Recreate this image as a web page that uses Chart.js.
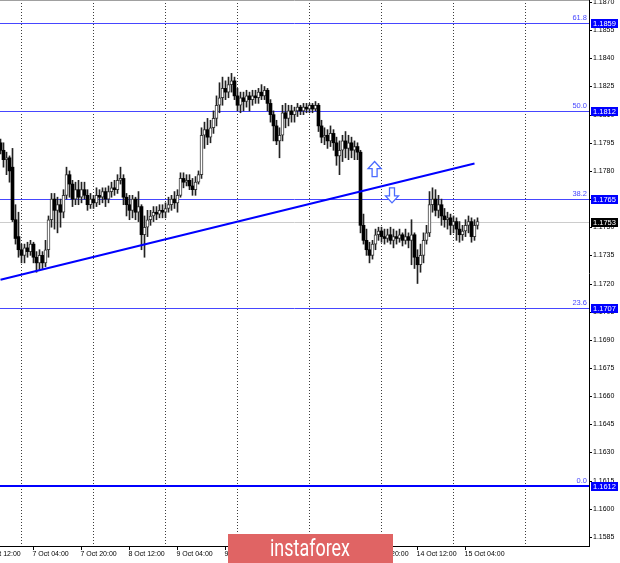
<!DOCTYPE html>
<html>
<head>
<meta charset="utf-8">
<script src="https://cdn.jsdelivr.net/npm/chart.js@4.4.0/dist/chart.umd.min.js"></script>
<style>
  html, body { margin: 0; padding: 0; background: #fff; }
  #wrap { width: 620px; height: 563px; }
</style>
</head>
<body>
<div id="wrap"><canvas id="eurusdH1" width="620" height="563"></canvas></div>
<script>
// H1 bars. Bar index 0 = 7 Oct 00:00, weekend hours are skipped like in the terminal
var firstBar = -7;

var openVals = [
  1.1795,1.1791,1.1786,1.1787,1.1782,1.1754,1.1745,1.1738,1.1735,1.1739,
  1.1737,1.1741,1.1734,1.1731,1.1735,1.1731,1.1738,1.1754,1.1765,1.1759,
  1.1762,1.1758,1.1767,1.1778,1.1773,1.1765,1.1770,1.1766,1.1770,1.1767,
  1.1762,1.1765,1.1763,1.1767,1.1766,1.1769,1.1765,1.1769,1.1771,1.1770,
  1.1775,1.1776,1.1766,1.1762,1.1759,1.1765,1.1758,1.1761,1.1746,1.1750,
  1.1754,1.1756,1.1758,1.1757,1.1759,1.1758,1.1760,1.1762,1.1765,1.1763,
  1.1767,1.1776,1.1774,1.1775,1.1772,1.1770,1.1774,1.1778,1.1799,1.1802,
  1.1798,1.1803,1.1808,1.1815,1.1819,1.1824,1.1822,1.1826,1.1828,1.1820,
  1.1815,1.1819,1.1817,1.1820,1.1818,1.1820,1.1819,1.1822,1.1820,1.1823,
  1.1816,1.1810,1.1804,1.1796,1.1799,1.1811,1.1808,1.1812,1.1810,1.1812,
  1.1814,1.1812,1.1814,1.1813,1.1815,1.1813,1.1815,1.1804,1.1798,1.1799,
  1.1796,1.1800,1.1795,1.1788,1.1791,1.1796,1.1792,1.1795,1.1791,1.1793,
  1.1790,1.1751,1.1743,1.1738,1.1735,1.1741,1.1746,1.1748,1.1745,1.1744,
  1.1746,1.1743,1.1745,1.1744,1.1746,1.1743,1.1745,1.1743,1.1746,1.1734,
  1.1730,1.1735,1.1743,1.1747,1.1762,1.1765,1.1759,1.1762,1.1756,1.1754,
  1.1755,1.1751,1.1753,1.1749,1.1746,1.1748,1.1751,1.1753,1.1745,1.1751
];
var highVals = [
  1.1797,1.1795,1.1790,1.1788,1.1792,1.1762,1.1758,1.1741,1.1741,1.1742,
  1.1743,1.1742,1.1737,1.1738,1.1737,1.1743,1.1756,1.1768,1.1768,1.1766,
  1.1765,1.1770,1.1782,1.1780,1.1775,1.1774,1.1775,1.1774,1.1774,1.1770,
  1.1768,1.1767,1.1771,1.1770,1.1771,1.1771,1.1772,1.1774,1.1775,1.1778,
  1.1782,1.1778,1.1768,1.1767,1.1767,1.1766,1.1769,1.1762,1.1756,1.1759,
  1.1759,1.1761,1.1761,1.1762,1.1762,1.1763,1.1766,1.1767,1.1769,1.1770,
  1.1779,1.1779,1.1778,1.1778,1.1776,1.1777,1.1780,1.1803,1.1806,1.1808,
  1.1807,1.1812,1.1820,1.1827,1.1830,1.1828,1.1830,1.1832,1.1830,1.1824,
  1.1822,1.1822,1.1823,1.1822,1.1823,1.1823,1.1824,1.1826,1.1825,1.1824,
  1.1818,1.1812,1.1807,1.1803,1.1815,1.1816,1.1815,1.1815,1.1814,1.1816,
  1.1815,1.1816,1.1816,1.1816,1.1816,1.1817,1.1816,1.1807,1.1803,1.1802,
  1.1804,1.1802,1.1798,1.1796,1.1799,1.1801,1.1799,1.1798,1.1796,1.1795,
  1.1791,1.1757,1.1749,1.1742,1.1743,1.1749,1.1750,1.1750,1.1749,1.1749,
  1.1750,1.1749,1.1748,1.1749,1.1747,1.1749,1.1747,1.1754,1.1747,1.1738,
  1.1741,1.1747,1.1751,1.1769,1.1771,1.1770,1.1767,1.1765,1.1760,1.1758,
  1.1757,1.1756,1.1755,1.1753,1.1751,1.1754,1.1756,1.1755,1.1754,1.1755
];
var lowVals = [
  1.1789,1.1782,1.1778,1.1774,1.1753,1.1741,1.1734,1.1731,1.1731,1.1734,
  1.1735,1.1731,1.1726,1.1727,1.1728,1.1729,1.1734,1.1750,1.1749,1.1747,
  1.1750,1.1755,1.1765,1.1766,1.1761,1.1762,1.1762,1.1763,1.1765,1.1759,
  1.1760,1.1760,1.1761,1.1762,1.1763,1.1761,1.1763,1.1766,1.1767,1.1768,
  1.1773,1.1762,1.1756,1.1754,1.1755,1.1754,1.1753,1.1738,1.1734,1.1745,
  1.1751,1.1753,1.1754,1.1755,1.1755,1.1755,1.1758,1.1759,1.1760,1.1758,
  1.1766,1.1771,1.1772,1.1770,1.1767,1.1767,1.1773,1.1776,1.1792,1.1794,
  1.1795,1.1800,1.1804,1.1811,1.1815,1.1818,1.1819,1.1822,1.1818,1.1812,
  1.1811,1.1812,1.1814,1.1812,1.1815,1.1816,1.1816,1.1818,1.1818,1.1812,
  1.1806,1.1796,1.1794,1.1787,1.1796,1.1803,1.1804,1.1806,1.1806,1.1809,
  1.1810,1.1810,1.1811,1.1811,1.1811,1.1812,1.1801,1.1795,1.1794,1.1792,
  1.1793,1.1791,1.1783,1.1778,1.1785,1.1787,1.1786,1.1787,1.1786,1.1786,
  1.1747,1.1741,1.1735,1.1731,1.1733,1.1738,1.1743,1.1742,1.1741,1.1742,
  1.1741,1.1739,1.1741,1.1742,1.1740,1.1741,1.1739,1.1730,1.1728,1.1720,
  1.1726,1.1731,1.1741,1.1745,1.1758,1.1756,1.1755,1.1751,1.1750,1.1749,
  1.1746,1.1747,1.1743,1.1742,1.1743,1.1745,1.1747,1.1742,1.1743,1.1749
];
var closeVals = [
  1.1791,1.1786,1.1787,1.1780,1.1754,1.1744,1.1738,1.1735,1.1739,1.1737,
  1.1741,1.1734,1.1731,1.1735,1.1731,1.1738,1.1754,1.1765,1.1759,1.1762,
  1.1758,1.1767,1.1778,1.1773,1.1765,1.1770,1.1766,1.1770,1.1767,1.1762,
  1.1765,1.1763,1.1767,1.1766,1.1769,1.1765,1.1769,1.1771,1.1770,1.1775,
  1.1776,1.1766,1.1762,1.1759,1.1765,1.1758,1.1761,1.1746,1.1750,1.1754,
  1.1756,1.1758,1.1757,1.1759,1.1758,1.1760,1.1762,1.1765,1.1763,1.1767,
  1.1776,1.1774,1.1775,1.1772,1.1770,1.1774,1.1778,1.1799,1.1802,1.1798,
  1.1803,1.1808,1.1815,1.1819,1.1824,1.1822,1.1826,1.1828,1.1820,1.1815,
  1.1819,1.1817,1.1820,1.1818,1.1820,1.1819,1.1822,1.1820,1.1823,1.1816,
  1.1810,1.1804,1.1796,1.1799,1.1811,1.1808,1.1812,1.1810,1.1812,1.1814,
  1.1812,1.1814,1.1813,1.1815,1.1813,1.1815,1.1804,1.1798,1.1799,1.1796,
  1.1800,1.1795,1.1788,1.1791,1.1796,1.1792,1.1795,1.1791,1.1793,1.1790,
  1.1751,1.1743,1.1738,1.1735,1.1741,1.1746,1.1748,1.1745,1.1744,1.1746,
  1.1743,1.1745,1.1744,1.1746,1.1743,1.1745,1.1743,1.1746,1.1734,1.1730,
  1.1735,1.1743,1.1747,1.1762,1.1765,1.1759,1.1762,1.1756,1.1754,1.1755,
  1.1751,1.1753,1.1749,1.1746,1.1748,1.1751,1.1753,1.1745,1.1751,1.1753
];

// time axis labels (bar index -> text) and day separators
var timeTickIdx = [-12, 4, 20, 36, 52, 68, 84, 100, 116, 132, 148];
var timeTickText = ['6 Oct 12:00', '7 Oct 04:00', '7 Oct 20:00', '8 Oct 12:00', '9 Oct 04:00',
  '9 Oct 20:00', '12 Oct 12:00', '13 Oct 04:00', '13 Oct 20:00', '14 Oct 12:00', '15 Oct 04:00'];
var dayStartIdx = [0, 24, 48, 72, 96, 120, 144, 168];

// price axis
var priceTicks = [1.1870, 1.1855, 1.1840, 1.1825, 1.1810, 1.1795, 1.1780, 1.1765, 1.1750, 1.1735,
  1.1720, 1.1705, 1.1690, 1.1675, 1.1660, 1.1645, 1.1630, 1.1615, 1.1600, 1.1585];

// fibo levels
var fibNames = ['61.8', '50.0', '38.2', '23.6', '0.0'];
var fibPrices = [1.1859, 1.1812, 1.1765, 1.1707, 1.1612];
var lastPrice = 1.1753;

// trend line (bar index, price)
var trendIdx = [-7, 151];
var trendPrices = [1.1722, 1.1784];

// hollow arrows: bar index, top price, bottom price
var arrowIdx = [117.7, 123.5];
var arrowTop = [1.1785, 1.1771];
var arrowBottom = [1.1777, 1.1763];
var arrowDir = ['up', 'down'];

var wickPts = [], bodyPts = [];
for (var k = 0; k < openVals.length; k++) {
  wickPts.push({ x: firstBar + k, y: [lowVals[k], highVals[k]] });
  bodyPts.push({ x: firstBar + k, y: [Math.min(openVals[k], closeVals[k]), Math.max(openVals[k], closeVals[k])] });
}
var trendPts = trendIdx.map(function (v, n) { return { x: v, y: trendPrices[n] }; });

function isBull(ctx) {
  return closeVals[ctx.dataIndex] >= openVals[ctx.dataIndex];
}

var axisFont = '7px "Liberation Sans", Arial, sans-serif';

var mt4Frame = {
  id: 'mt4Frame',
  beforeDatasetsDraw: function (chart) {
    var c = chart.ctx, a = chart.chartArea, xs = chart.scales.x, ys = chart.scales.y;
    c.save();
    // day separators
    c.strokeStyle = '#3c3c3c';
    c.lineWidth = 1;
    c.setLineDash([1, 2]);
    dayStartIdx.forEach(function (i) {
      var px = Math.floor(xs.getPixelForValue(i)) + 0.5;
      c.beginPath(); c.moveTo(px, a.top); c.lineTo(px, a.bottom); c.stroke();
    });
    c.setLineDash([]);
    // bid line
    var by = Math.round(ys.getPixelForValue(lastPrice)) + 0.5;
    c.strokeStyle = '#cccccc';
    c.beginPath(); c.moveTo(a.left, by); c.lineTo(a.right, by); c.stroke();
    // fibo levels
    fibPrices.forEach(function (p, n) {
      var w = fibNames[n] === '0.0' ? 2 : 1;
      var py = Math.round(ys.getPixelForValue(p)) + (w === 1 ? 0.5 : 0);
      c.strokeStyle = w === 2 ? '#0000ff' : '#4646ff';
      c.lineWidth = w;
      c.beginPath(); c.moveTo(a.left, py); c.lineTo(a.right, py); c.stroke();
    });
    c.restore();
  },
  afterDraw: function (chart) {
    var c = chart.ctx, a = chart.chartArea, xs = chart.scales.x, ys = chart.scales.y;
    c.save();
    // frame
    c.strokeStyle = '#a0a0a0';
    c.lineWidth = 1;
    c.beginPath(); c.moveTo(a.left, 0.5); c.lineTo(a.right, 0.5); c.stroke();
    c.strokeStyle = '#000';
    c.beginPath();
    c.moveTo(a.right + 0.5, 0); c.lineTo(a.right + 0.5, a.bottom + 1);
    c.moveTo(0, a.bottom + 0.5); c.lineTo(a.right + 1, a.bottom + 0.5);
    c.stroke();

    c.font = axisFont;
    c.fillStyle = '#000';
    // price labels
    c.textAlign = 'left';
    c.textBaseline = 'middle';
    priceTicks.forEach(function (p) {
      var py = Math.round(ys.getPixelForValue(p)) + 0.5;
      c.beginPath(); c.moveTo(a.right, py); c.lineTo(a.right + 3, py); c.stroke();
      c.fillText(p.toFixed(4), a.right + 4, py);
    });
    // time labels
    timeTickIdx.forEach(function (i, n) {
      var px = Math.floor(xs.getPixelForValue(i)) + 0.5;
      c.beginPath(); c.moveTo(px, a.bottom); c.lineTo(px, a.bottom + 4); c.stroke();
      c.fillText(timeTickText[n], px - 1, a.bottom + 8);
    });

    // fibo captions and price boxes
    c.font = '7.5px "Liberation Sans", Arial, sans-serif';
    fibPrices.forEach(function (p, n) {
      var py = Math.round(ys.getPixelForValue(p));
      c.fillStyle = '#4646ff';
      c.textAlign = 'right';
      c.textBaseline = 'bottom';
      c.fillText(fibNames[n], a.right - 2, py - 1);
      c.fillStyle = '#0000ff';
      c.fillRect(a.right + 2, py - 4, 27, 9);
      c.fillStyle = '#fff';
      c.textAlign = 'left';
      c.textBaseline = 'middle';
      c.fillText(p.toFixed(4), a.right + 4, py + 0.5);
    });
    // last price box
    var ly = Math.round(ys.getPixelForValue(lastPrice));
    c.fillStyle = '#000';
    c.fillRect(a.right + 2, ly - 4, 27, 9);
    c.fillStyle = '#fff';
    c.fillText(lastPrice.toFixed(4), a.right + 4, ly + 0.5);

    // hollow arrows
    c.strokeStyle = '#4a6aff';
    c.fillStyle = '#fff';
    c.lineWidth = 1.3;
    arrowIdx.forEach(function (i, n) {
      var cx = xs.getPixelForValue(i);
      var t = ys.getPixelForValue(arrowTop[n]);
      var b = ys.getPixelForValue(arrowBottom[n]);
      c.beginPath();
      if (arrowDir[n] === 'up') {
        c.moveTo(cx, t); c.lineTo(cx + 6.5, t + 7); c.lineTo(cx + 2.5, t + 7);
        c.lineTo(cx + 2.5, b); c.lineTo(cx - 2.5, b); c.lineTo(cx - 2.5, t + 7);
        c.lineTo(cx - 6.5, t + 7);
      } else {
        c.moveTo(cx, b); c.lineTo(cx + 6.5, b - 7); c.lineTo(cx + 2.5, b - 7);
        c.lineTo(cx + 2.5, t); c.lineTo(cx - 2.5, t); c.lineTo(cx - 2.5, b - 7);
        c.lineTo(cx - 6.5, b - 7);
      }
      c.closePath();
      c.fill();
      c.stroke();
    });

    // watermark
    c.fillStyle = '#e06464';
    c.fillRect(228, 534, 165, 29);
    c.fillStyle = '#fff';
    c.font = '400 23px Roboto, sans-serif';
    c.textAlign = 'left';
    c.textBaseline = 'alphabetic';
    var txt = 'instaforex';
    var tw = c.measureText(txt).width;
    c.translate(270, 556);
    c.scale(80 / tw, 1);
    c.fillText(txt, 0, 0);
    c.restore();
  }
};

var ctx = document.getElementById('eurusdH1').getContext('2d');
var chart = new Chart(ctx, {
  type: 'bar',
  data: {
    datasets: [
      {
        type: 'line',
        data: trendPts,
        borderColor: '#0000ff',
        borderWidth: 2,
        pointRadius: 0,
        order: 0
      },
      {
        data: bodyPts,
        grouped: false,
        barThickness: 3,
        backgroundColor: function (c) { return isBull(c) ? '#ffffff' : '#000000'; },
        borderColor: function (c) { return isBull(c) ? '#3a3a3a' : '#000000'; },
        borderWidth: function (c) { return isBull(c) ? 1 : 0; },
        borderSkipped: false,
        order: 1
      },
      {
        data: wickPts,
        grouped: false,
        barThickness: 1,
        backgroundColor: '#222222',
        order: 2
      }
    ]
  },
  options: {
    responsive: false,
    animation: false,
    layout: { padding: 0 },
    plugins: { legend: { display: false }, tooltip: { enabled: false } },
    scales: {
      x: {
        type: 'linear',
        min: -7.1667,
        max: 189.1667,
        offset: false,
        grid: { display: false },
        border: { display: false },
        ticks: { display: false },
        afterFit: function (s) { s.height = 17; }
      },
      y: {
        position: 'right',
        min: 1.15801,
        max: 1.18711,
        grid: { display: false },
        border: { display: false },
        ticks: { display: false },
        afterFit: function (s) { s.width = 31; }
      }
    }
  },
  plugins: [mt4Frame]
});
</script>
</body>
</html>
